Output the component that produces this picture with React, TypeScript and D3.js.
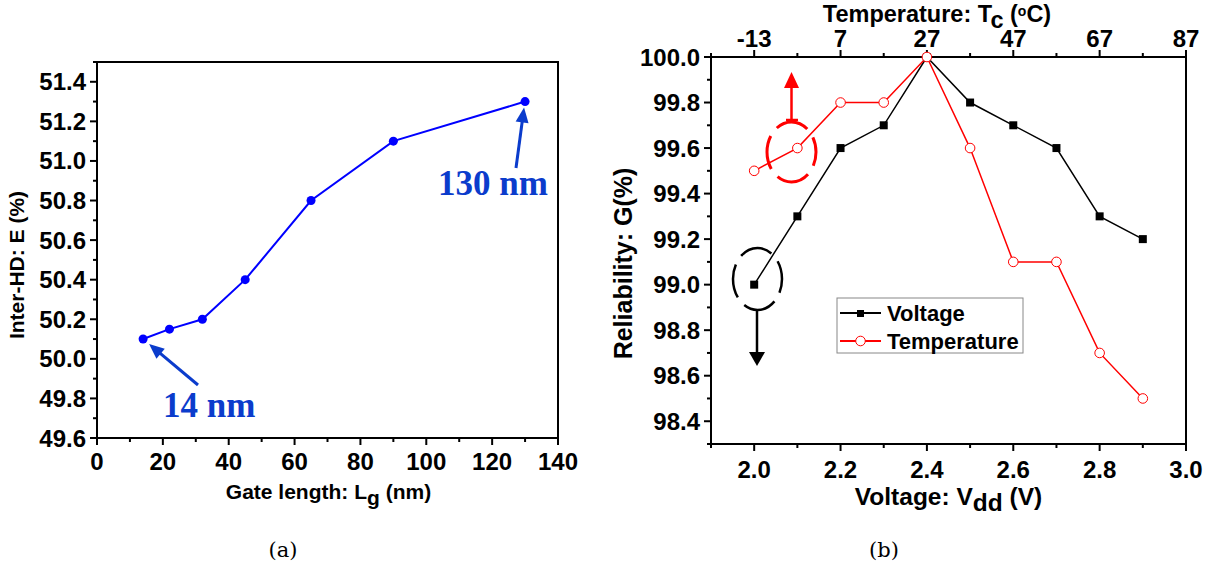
import React from "react";
import * as d3 from "d3";

// ---------- Data ----------
// (a) Inter-HD vs gate length
const gateLengths = [14, 22, 32, 45, 65, 90, 130];
const interHD = [50.1, 50.15, 50.2, 50.4, 50.8, 51.1, 51.3];
const aXTicks = [0, 20, 40, 60, 80, 100, 120, 140];
const aYTicks = [49.6, 49.8, 50.0, 50.2, 50.4, 50.6, 50.8, 51.0, 51.2, 51.4];

// (b) Reliability vs voltage / temperature
const voltages = [2.0, 2.1, 2.2, 2.3, 2.4, 2.5, 2.6, 2.7, 2.8, 2.9];
const reliabilityVoltage = [99.0, 99.3, 99.6, 99.7, 100.0, 99.8, 99.7, 99.6, 99.3, 99.2];
const temperatures = [-13, -3, 7, 17, 27, 37, 47, 57, 67, 77];
const reliabilityTemperature = [99.5, 99.6, 99.8, 99.8, 100.0, 99.6, 99.1, 99.1, 98.7, 98.5];
const bXTicks = [2.0, 2.2, 2.4, 2.6, 2.8, 3.0];
const bTopTicks = [-13, 7, 27, 47, 67, 87];
const bYTicks = [98.4, 98.6, 98.8, 99.0, 99.2, 99.4, 99.6, 99.8, 100.0];
const legendLabels = ["Voltage", "Temperature"];

const SANS = "'Liberation Sans', Arial, Helvetica, sans-serif";
const SERIF = "'Liberation Serif', 'Times New Roman', serif";
const CAPTION = "'DejaVu Serif', 'Liberation Serif', serif";
const BLUE = "#0000ff";
const ANNOT = "#0b3ccc";
const RED = "#ff0000";
const TICK_FS = 24;

function range(a: number, b: number, step: number) {
  const out: number[] = [];
  for (let v = a; v <= b + step / 1000; v += step) out.push(Math.round(v * 1000) / 1000);
  return out;
}

function Arrow({ x1, y1, x2, y2, color, width, headLen, headW }: any) {
  const dx = x2 - x1, dy = y2 - y1;
  const len = Math.hypot(dx, dy);
  const ux = dx / len, uy = dy / len;
  const bx = x2 - ux * headLen, by = y2 - uy * headLen;
  const px = -uy, py = ux;
  return (
    <g>
      <line x1={x1} y1={y1} x2={bx + ux * 2} y2={by + uy * 2} stroke={color} strokeWidth={width} />
      <polygon
        points={`${x2},${y2} ${bx + (px * headW) / 2},${by + (py * headW) / 2} ${bx - (px * headW) / 2},${by - (py * headW) / 2}`}
        fill={color}
      />
    </g>
  );
}

function ChartA() {
  const L = 97, T = 62, R = 558, B = 438;
  const x = d3.scaleLinear().domain([0, 140]).range([L, R]);
  const y = d3.scaleLinear().domain([49.6, 51.5]).range([B, T]);
  const line = d3.line<number>().x((_, i) => x(gateLengths[i])).y((d) => y(d));
  const minorX = range(0, 140, 10);
  const minorY = range(49.6, 51.5, 0.1);
  return (
    <g>
      <rect x={L} y={T} width={R - L} height={B - T} fill="none" stroke="#000" strokeWidth={2} />
      {minorX.map((v) => (
        <line key={"mx" + v} x1={x(v)} x2={x(v)} y1={B} y2={B + (v % 20 === 0 ? 7 : 4)} stroke="#000" strokeWidth={2} />
      ))}
      {aXTicks.map((v) => (
        <text key={"tx" + v} x={x(v)} y={B + 32} textAnchor="middle" fontFamily={SANS} fontWeight="bold" fontSize={TICK_FS}>
          {v}
        </text>
      ))}
      {minorY.map((v, i) => (
        <line key={"my" + v} x1={L} x2={L - (i % 2 === 0 ? 7 : 4)} y1={y(v)} y2={y(v)} stroke="#000" strokeWidth={2} />
      ))}
      {aYTicks.map((v) => (
        <text key={"ty" + v} x={L - 11} y={y(v) + 8.5} textAnchor="end" fontFamily={SANS} fontWeight="bold" fontSize={TICK_FS}>
          {v.toFixed(1)}
        </text>
      ))}
      <text x={(L + R) / 2 + 1} y={499} textAnchor="middle" fontFamily={SANS} fontWeight="bold" fontSize={21}>
        Gate length: L<tspan dy={6}>g</tspan>
        <tspan dy={-6}> (nm)</tspan>
      </text>
      <text
        transform={`translate(24, ${(187 + 343) / 2}) rotate(-90)`}
        textAnchor="middle"
        fontFamily={SANS}
        fontWeight="bold"
        fontSize={21}
      >
        Inter-HD: E (%)
      </text>
      <path d={line(interHD) || ""} fill="none" stroke={BLUE} strokeWidth={2} />
      {interHD.map((v, i) => (
        <circle key={"p" + i} cx={x(gateLengths[i])} cy={y(v)} r={4.5} fill={BLUE} />
      ))}
      <Arrow x1={198} y1={385} x2={x(14) + 6} y2={y(50.1) + 5} color={ANNOT} width={3} headLen={15} headW={13} />
      <text x={163} y={417} fontFamily={SERIF} fontWeight="bold" fontSize={35} fill={ANNOT}>
        14 nm
      </text>
      <Arrow x1={516} y1={168} x2={x(130) - 1} y2={y(51.3) + 6} color={ANNOT} width={3} headLen={15} headW={13} />
      <text x={438} y={195} fontFamily={SERIF} fontWeight="bold" fontSize={35} fill={ANNOT}>
        130 nm
      </text>
      <text x={283} y={557} textAnchor="middle" fontFamily={CAPTION} fontSize={21}>
        (a)
      </text>
    </g>
  );
}

function ChartB() {
  const L = 711, T = 57, R = 1186, B = 444;
  const x = d3.scaleLinear().domain([1.9, 3.0]).range([L, R]);
  const xt = d3.scaleLinear().domain([-23, 87]).range([L, R]);
  const y = d3.scaleLinear().domain([98.3, 100.0]).range([B, T]);
  const lineV = d3.line<number>().x((_, i) => x(voltages[i])).y((d) => y(d));
  const lineT = d3.line<number>().x((_, i) => xt(temperatures[i])).y((d) => y(d));
  const minorX = range(1.9, 3.0, 0.1);
  const minorTop = range(-23, 87, 10);
  const minorY = range(98.3, 100.0, 0.1);
  return (
    <g>
      <rect x={L} y={T} width={R - L} height={B - T} fill="none" stroke="#000" strokeWidth={2} />
      {minorX.map((v, i) => (
        <line key={"bx" + v} x1={x(v)} x2={x(v)} y1={B} y2={B + (i % 2 === 1 ? 7 : 4)} stroke="#000" strokeWidth={2} />
      ))}
      {bXTicks.map((v) => (
        <text key={"bt" + v} x={x(v)} y={B + 34} textAnchor="middle" fontFamily={SANS} fontWeight="bold" fontSize={TICK_FS}>
          {v.toFixed(1)}
        </text>
      ))}
      {minorTop.map((v, i) => (
        <line key={"tx" + v} x1={xt(v)} x2={xt(v)} y1={T} y2={T - (i % 2 === 1 ? 7 : 4)} stroke="#000" strokeWidth={2} />
      ))}
      {bTopTicks.map((v) => (
        <text key={"tt" + v} x={xt(v)} y={T - 10} textAnchor="middle" fontFamily={SANS} fontWeight="bold" fontSize={TICK_FS}>
          {v}
        </text>
      ))}
      {minorY.map((v, i) => (
        <line key={"by" + v} x1={L} x2={L - (i % 2 === 1 ? 7 : 4)} y1={y(v)} y2={y(v)} stroke="#000" strokeWidth={2} />
      ))}
      {bYTicks.map((v) => (
        <text key={"byt" + v} x={L - 11} y={y(v) + 8.5} textAnchor="end" fontFamily={SANS} fontWeight="bold" fontSize={TICK_FS}>
          {v.toFixed(1)}
        </text>
      ))}
      <text x={(L + R) / 2} y={505} textAnchor="middle" fontFamily={SANS} fontWeight="bold" fontSize={24.5}>
        Voltage: V<tspan dy={6}>dd</tspan>
        <tspan dy={-6}> (V)</tspan>
      </text>
      <text x={937} y={22} textAnchor="middle" fontFamily={SANS} fontWeight="bold" fontSize={23.5}>
        Temperature: T<tspan dy={6}>c</tspan>
        <tspan dy={-6}> (</tspan>
        <tspan dy={-6} fontSize={14}>o</tspan>
        <tspan dy={6}>C)</tspan>
      </text>
      <text
        transform={`translate(632, ${(165 + 362) / 2}) rotate(-90)`}
        textAnchor="middle"
        fontFamily={SANS}
        fontWeight="bold"
        fontSize={25}
      >
        Reliability: G(%)
      </text>
      <path d={lineV(reliabilityVoltage) || ""} fill="none" stroke="#000" strokeWidth={1.5} />
      <path d={lineT(reliabilityTemperature) || ""} fill="none" stroke={RED} strokeWidth={1.5} />
      {reliabilityVoltage.map((v, i) => (
        <rect key={"sq" + i} x={x(voltages[i]) - 4} y={y(v) - 4} width={8} height={8} fill="#000" />
      ))}
      {reliabilityTemperature.map((v, i) => (
        <circle key={"ci" + i} cx={xt(temperatures[i])} cy={y(v)} r={4.8} fill="#fff" stroke={RED} strokeWidth={1} />
      ))}
      <ellipse cx={757.5} cy={279} rx={24.5} ry={31} fill="none" stroke="#000" strokeWidth={2.5} strokeDasharray="34 10" strokeDashoffset={20} />
      <Arrow x1={757} y1={310} x2={757} y2={366} color="#000" width={2.5} headLen={14} headW={16} />
      <ellipse cx={791.5} cy={152} rx={24.5} ry={30} fill="none" stroke={RED} strokeWidth={3} strokeDasharray="34 10" strokeDashoffset={20} />
      <Arrow x1={791.5} y1={120} x2={791.5} y2={72} color={RED} width={2.5} headLen={16} headW={15} />
      <line x1={786} x2={798} y1={120} y2={120} stroke={RED} strokeWidth={2.5} />
      <rect x={837} y={298} width={186} height={55} fill="#fff" stroke="#888" strokeWidth={1} />
      <line x1={840} x2={881} y1={313} y2={313} stroke="#000" strokeWidth={2} />
      <rect x={857} y={310} width={7} height={7} fill="#000" />
      <line x1={840} x2={881} y1={341} y2={341} stroke={RED} strokeWidth={2} />
      <circle cx={860.5} cy={341} r={4.8} fill="#fff" stroke={RED} strokeWidth={1} />
      {legendLabels.map((t, i) => (
        <text key={t} x={887} y={320.5 + i * 28} fontFamily={SANS} fontWeight="bold" fontSize={22}>
          {t}
        </text>
      ))}
      <text x={884} y={557} textAnchor="middle" fontFamily={CAPTION} fontSize={21}>
        (b)
      </text>
    </g>
  );
}

export default function App() {
  return (
    <svg
      width={1215}
      height={569}
      viewBox="0 0 1215 569"
      style={{ position: "absolute", left: 0, top: 0, background: "#fff", display: "block" }}
    >
      <rect width={1215} height={569} fill="#fff" />
      <ChartA />
      <ChartB />
    </svg>
  );
}
